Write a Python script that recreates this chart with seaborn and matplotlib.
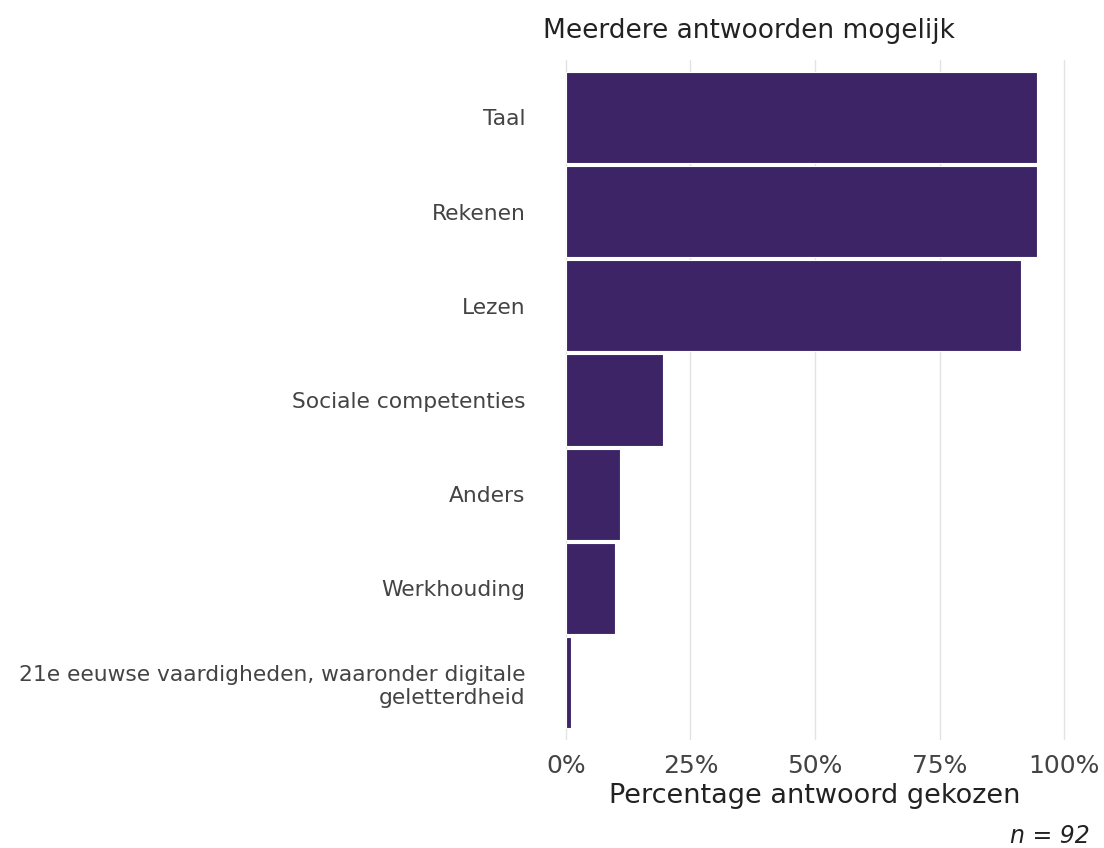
import matplotlib
matplotlib.use("Agg")
import matplotlib.pyplot as plt
import seaborn as sns
import pandas as pd
from matplotlib.ticker import PercentFormatter

# data (n = 92 respondents)
categories = [
    "Taal",
    "Rekenen",
    "Lezen",
    "Sociale competenties",
    "Anders",
    "Werkhouding",
    "21e eeuwse vaardigheden, waaronder digitale\ngeletterdheid",
]
counts = [87, 87, 84, 18, 10, 9, 1]
n_total = 92
shares = [c / n_total for c in counts]

df = pd.DataFrame({"categorie": categories, "aandeel": shares})

sns.set_theme(style="white")
plt.rcParams["font.family"] = ["DejaVu Sans"]

fig = plt.figure(figsize=(11.04, 8.48), dpi=100)
ax = fig.add_axes([556 / 1104, 108 / 848, 518 / 1104, 680 / 848])

sns.barplot(data=df, x="aandeel", y="categorie", color="#3d2467",
            saturation=1, width=0.97, edgecolor="white", linewidth=0.8, ax=ax)

ax.set_xlim(-0.02, 1.02)
ax.set_ylim(6.61, -0.61)
ax.set_xticks([0, 0.25, 0.5, 0.75, 1.0])
ax.xaxis.set_major_formatter(PercentFormatter(1.0, decimals=0))
ax.grid(axis="x", color="#e3e3e3", linewidth=1.0)
ax.grid(axis="y", visible=False)
ax.set_axisbelow(True)
for s in ax.spines.values():
    s.set_visible(False)

ax.tick_params(axis="x", length=0, pad=10, labelsize=18, labelcolor="#444444")
ax.tick_params(axis="y", length=0, pad=22, labelsize=15.7, labelcolor="#444444")
ax.set_ylabel("")
ax.set_xlabel("Percentage antwoord gekozen", fontsize=19.5, color="#222222", labelpad=4)

fig.text(543 / 1104, 1 - 31 / 848, "Meerdere antwoorden mogelijk",
         fontsize=19, color="#222222", ha="left", va="center")
fig.text(1090 / 1104, 1 - 836 / 848, f"n = {n_total}", fontsize=17,
         style="italic", color="#222222", ha="right", va="center")

fig.savefig("out.png", dpi=100, facecolor="white")
